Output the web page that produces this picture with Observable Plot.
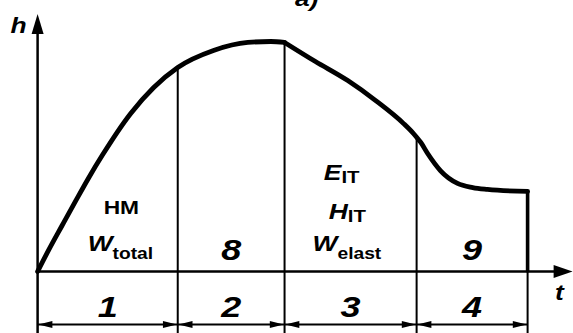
<!DOCTYPE html>
<html><head><meta charset="utf-8">
<script src="https://cdn.jsdelivr.net/npm/d3@7"></script>
<script src="https://cdn.jsdelivr.net/npm/@observablehq/plot@0.6"></script>
<style>
html,body{margin:0;padding:0;background:#fff;}
#chart svg *{vector-effect:non-scaling-stroke;}
</style></head>
<body><div id="chart"></div>
<script>
// ---- data (time t, depth h; arbitrary units) ----
const loadT   = [0, 2.3, 5.0, 7.8, 10.5, 13.2, 19.0, 28.6, 35.9, 42.9, 47.6, 50.4];
const loadH   = [0, 9.5, 20.0, 30.8, 41.0, 50.5, 68.7, 88.7, 96.1, 99.6, 100, 99.6];
const unloadT = [50.4, 56.7, 63.3, 69.0, 74.7, 76.7, 77.35, 78.2, 79.6, 82.2, 85.7, 88.8, 91.8, 100];
const unloadH = [99.6, 91.3, 83.0, 74.3, 64.3, 60.0, 58.4, 56.1, 51.3, 43.9, 38.3, 36.5, 35.7, 34.8];
const phaseBounds = [0, 28.6, 50.4, 77.35, 100];
const phaseLabels = ["1", "2", "3", "4"];
const stepLabels  = ["8", "9"];          // in phases 2 and 4
const leftMain  = ["HM", "W"];
const leftSub   = ["", "total"];
const rightMain = ["E", "H", "W"];
const rightSub  = ["IT", "IT", "elast"];
const axisNames = ["h", "t"];
const figLabel  = "a)";

// ---- layout ----
const S = 1.2;                 // horizontal stretch of the drawing
const W0 = 573 / S, H0 = 333;
const xDom = [-7.551, 109.388];
const yDom = [-26.957, 117.826];
const FONT = "Liberation Sans, Arial, Helvetica, sans-serif";

const loadData = loadT.map((t, i) => ({t, h: loadH[i]}));
const unloadData = unloadT.map((t, i) => ({t, h: unloadH[i]}));
const curveAt = t => {
  const i = loadT.indexOf(t);
  if (i >= 0 && t > 0) return loadH[i];
  return unloadH[unloadT.indexOf(t)];
};
const intervals = phaseLabels.map((lab, i) => ({a: phaseBounds[i], b: phaseBounds[i + 1], lab, mid: (phaseBounds[i] + phaseBounds[i + 1]) / 2}));
const heads = intervals.flatMap(d => [{x: d.a + 0.15, rot: 270}, {x: d.b - 0.15, rot: 90}]);

const head = (len, w) => ({draw(ctx) { ctx.moveTo(0, 0); ctx.lineTo(w / 2, len); ctx.lineTo(-w / 2, len); ctx.closePath(); }});

const dimY = -23.0;
const txt = (data, o) => Plot.text(data, {lineAnchor: "bottom", fontFamily: FONT, fontWeight: "bold", fill: "black", ...o});

const leftRows = [{h: 24.8}, {h: 8.7, hs: 5.65}];
const rightRows = [{x: 62.0, h: 39.6, hs: 38.3}, {x: 63.3, h: 23.0, hs: 21.7}, {x: 61.2, h: 8.7, hs: 5.65}];

const chart = Plot.plot({
  width: W0, height: H0, margin: 0,
  x: {domain: xDom, axis: null},
  y: {domain: yDom, axis: null},
  marks: [
    // axes
    Plot.ruleX([0], {y1: yDom[0], y2: 108, strokeWidth: 2.5, stroke: "black"}),
    Plot.ruleY([0], {x1: 0, x2: 106, strokeWidth: 2.5, stroke: "black"}),
    Plot.dot([{x: 0, y: 112.0}], {x: "x", y: "y", symbol: head(20, 10), fill: "black", stroke: "none"}),
    Plot.dot([{x: 109.18, y: 0}], {x: "x", y: "y", symbol: head(15.8, 13), rotate: 90, fill: "black", stroke: "none"}),
    // phase boundaries
    Plot.ruleX(phaseBounds.slice(1), {y1: yDom[0], y2: d => d === 100 ? 0 : curveAt(d), strokeWidth: 2, stroke: "black"}),
    Plot.ruleX([100], {y1: -0.5, y2: curveAt(100), strokeWidth: 3.6, stroke: "black"}),
    // curve
    Plot.line(loadData, {x: "t", y: "h", curve: "monotone-x", strokeWidth: 4.8, stroke: "black", strokeLinejoin: "round"}),
    Plot.line(unloadData, {x: "t", y: "h", curve: "monotone-x", strokeWidth: 4.8, stroke: "black", strokeLinejoin: "round"}),
    // dimension arrows
    Plot.ruleY(intervals, {x1: "a", x2: "b", y: dimY, strokeWidth: 2, stroke: "black"}),
    Plot.dot(heads, {x: "x", y: dimY, rotate: "rot", symbol: head(11.7, 7), fill: "black", stroke: "none"}),
    // phase numbers
    txt(intervals, {x: "mid", y: -20, text: "lab", fontSize: 30, fontStyle: "italic"}),
    txt([0, 1], {x: i => (phaseBounds[1 + 2 * i] + phaseBounds[2 + 2 * i]) / 2, y: 5.2, text: i => stepLabels[i], fontSize: 30, fontStyle: "italic"}),
    // left parameter labels
    txt([0], {x: 17.1, y: leftRows[0].h, text: () => leftMain[0], fontSize: 19}),
    txt([1], {x: 15.3, y: leftRows[1].h, text: i => leftMain[i], fontSize: 22, fontStyle: "italic", textAnchor: "end"}),
    txt([1], {x: 15.3, y: leftRows[1].hs, text: i => leftSub[i], fontSize: 16, textAnchor: "start"}),
    // right parameter labels
    txt([0, 1, 2], {x: i => rightRows[i].x, y: i => rightRows[i].h, text: i => rightMain[i], fontSize: 22, fontStyle: "italic", textAnchor: "end"}),
    txt([0, 1, 2], {x: i => rightRows[i].x, y: i => rightRows[i].hs, text: i => rightSub[i], fontSize: i => i < 2 ? 17 : 16, textAnchor: "start"}),
    // axis names and figure label
    txt([0], {x: -3.9, y: 103.5, text: () => axisNames[0], fontSize: 22, fontStyle: "italic"}),
    txt([1], {x: 106.5, y: -12.6, text: () => axisNames[1], fontSize: 22, fontStyle: "italic"}),
    txt([0], {x: 54.9, y: 115.65, text: () => figLabel, fontSize: 22, fontStyle: "italic"})
  ]
});
chart.setAttribute("width", 573);
chart.setAttribute("height", 333);
chart.setAttribute("preserveAspectRatio", "none");
chart.style.maxWidth = "none";
chart.style.width = "573px";
chart.style.height = "333px";
chart.style.background = "white";
document.getElementById("chart").appendChild(chart);
</script>
</body></html>
